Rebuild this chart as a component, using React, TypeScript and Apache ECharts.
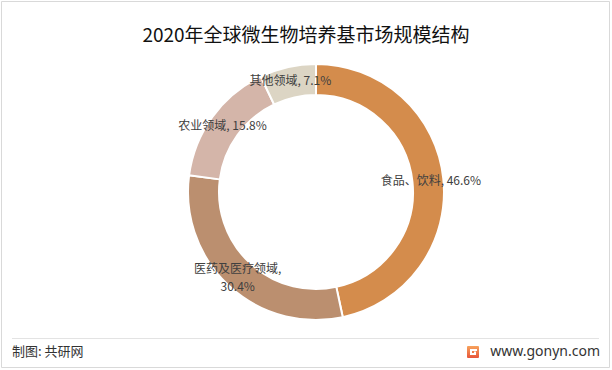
import React, { useEffect, useRef } from "react";
import * as echarts from "echarts";

const title = "2020年全球微生物培养基市场规模结构";
const categories = ["食品、饮料", "医药及医疗领域", "农业领域", "其他领域"];
const shares = [46.6, 30.4, 15.8, 7.1];
const colors = ["#D48C4C", "#BB8F6F", "#D4B5A9", "#DCD5C4"];
const sourceText = "制图: 共研网";
const siteText = "www.gonyn.com";

export default function App() {
  const ref = useRef<HTMLDivElement>(null);
  useEffect(() => {
    if (!ref.current) return;
    const chart = echarts.init(ref.current, null, { renderer: "svg" });
    const font = "'Noto Sans CJK SC', 'Noto Sans', sans-serif";
    chart.setOption({
      animation: false,
      backgroundColor: "#ffffff",
      title: {
        text: title,
        left: "center",
        top: 19,
        textStyle: { fontSize: 19, fontWeight: "normal", color: "#111", fontFamily: font },
      },
      graphic: [
        { type: "rect", shape: { x: 1.5, y: 1.5, width: 608, height: 366 }, style: { fill: "none", stroke: "#D9D9D9", lineWidth: 1 } },
        { type: "line", shape: { x1: 12, y1: 338.5, x2: 599, y2: 338.5 }, style: { stroke: "#E3E3E3", lineWidth: 1 } },
        { type: "text", left: 12, top: 344, style: { text: sourceText, fontSize: 13, fill: "#333", fontFamily: font } },
        { type: "text", right: 12, top: 343, style: { text: siteText, fontSize: 14, fill: "#333", fontFamily: "'Noto Sans', sans-serif" } },
        {
          type: "rect",
          shape: { x: 467, y: 346, width: 12, height: 12, r: 1 },
          style: {
            fill: new echarts.graphic.LinearGradient(0, 0, 0, 1, [
              { offset: 0, color: "#F7A35C" },
              { offset: 1, color: "#E8553A" },
            ]),
          },
        },
        { type: "rect", shape: { x: 470, y: 349, width: 7, height: 2 }, style: { fill: "#fff" } },
        { type: "rect", shape: { x: 470, y: 349, width: 2, height: 6 }, style: { fill: "#fff" } },
        { type: "rect", shape: { x: 470, y: 353, width: 6, height: 2 }, style: { fill: "#fff" } },
        { type: "rect", shape: { x: 474, y: 351.5, width: 2, height: 3 }, style: { fill: "#fff" } },
      ],
      series: [
        {
          type: "pie",
          center: [316, 192],
          radius: [97, 128],
          startAngle: 90,
          clockwise: true,
          avoidLabelOverlap: false,
          itemStyle: { borderColor: "#fff", borderWidth: 2 },
          label: {
            show: true,
            position: "inside",
            color: "#404040",
            fontSize: 12,
            lineHeight: 18,
            fontFamily: font,
            formatter: (p: any) =>
              p.name.length > 6 ? `${p.name},\n${p.value}%` : `${p.name}, ${p.value}%`,
          },
          labelLine: { show: false },
          data: categories.map((c, i) => ({ name: c, value: shares[i], itemStyle: { color: colors[i] } })),
        },
      ],
    });
    return () => chart.dispose();
  }, []);
  return (
    <div
      ref={ref}
      style={{ position: "absolute", left: 0, top: 0, width: 612, height: 370 }}
    />
  );
}
